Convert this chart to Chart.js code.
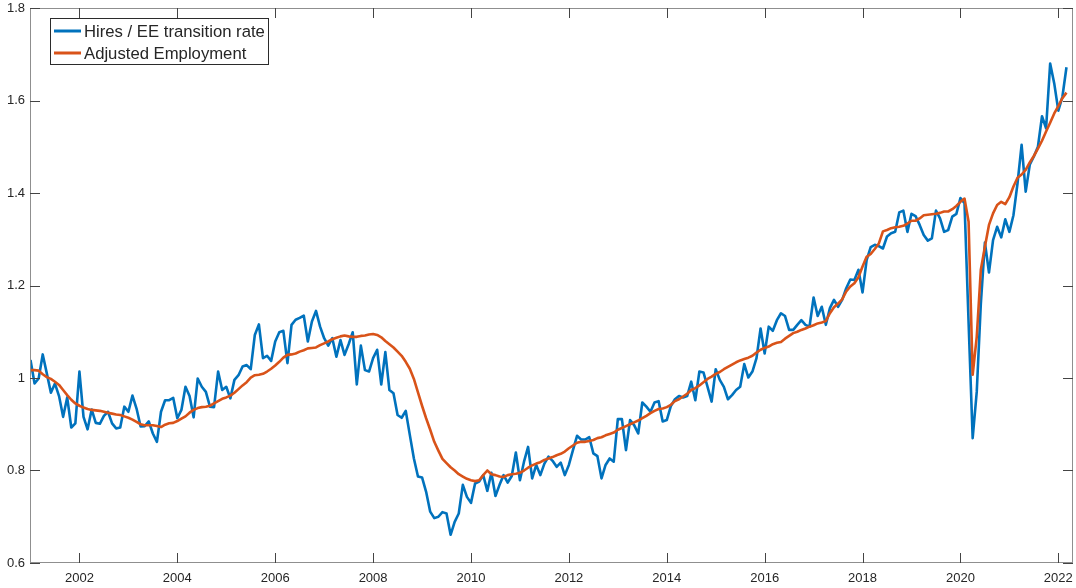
<!DOCTYPE html>
<html>
<head>
<meta charset="utf-8">
<script src="https://cdn.jsdelivr.net/npm/chart.js@4.4.1/dist/chart.umd.min.js"></script>
<style>
  html, body { margin: 0; padding: 0; background: #fff; }
  #wrap { width: 1076px; height: 588px; }
</style>
</head>
<body>
<div id="wrap"><canvas id="chart" width="1076" height="588"></canvas></div>
<script>
// monthly series, first value = Jan 2001
const startYear = 2001;
const tickYears = [2002, 2004, 2006, 2008, 2010, 2012, 2014, 2016, 2018, 2020, 2022];
const yTicks = [0.6, 0.8, 1.0, 1.2, 1.4, 1.6, 1.8];
const seriesNames = ['Hires / EE transition rate', 'Adjusted Employment'];

const hires = [
  1.039, 0.988, 0.999, 1.051, 1.010, 0.968, 0.988, 0.961, 0.916, 0.958, 0.893, 0.902, // 2001
  1.014, 0.916, 0.889, 0.932, 0.903, 0.901, 0.918, 0.927, 0.902, 0.891, 0.893, 0.938, // 2002
  0.927, 0.962, 0.934, 0.895, 0.896, 0.906, 0.880, 0.862, 0.927, 0.952, 0.952, 0.957, // 2003
  0.913, 0.931, 0.981, 0.961, 0.915, 0.999, 0.981, 0.970, 0.938, 0.937, 1.014, 0.974, // 2004
  0.981, 0.956, 0.996, 1.006, 1.025, 1.028, 1.019, 1.093, 1.116, 1.043, 1.048, 1.037, // 2005
  1.079, 1.099, 1.102, 1.032, 1.115, 1.126, 1.130, 1.135, 1.079, 1.122, 1.145, 1.111, // 2006
  1.086, 1.070, 1.086, 1.046, 1.082, 1.050, 1.073, 1.099, 0.986, 1.070, 1.017, 1.014, // 2007
  1.043, 1.061, 0.986, 1.056, 0.974, 0.967, 0.920, 0.914, 0.929, 0.877, 0.826, 0.787, // 2008
  0.785, 0.754, 0.711, 0.697, 0.700, 0.710, 0.707, 0.661, 0.689, 0.707, 0.769, 0.743, // 2009
  0.730, 0.772, 0.776, 0.790, 0.756, 0.795, 0.745, 0.769, 0.790, 0.774, 0.788, 0.839, // 2010
  0.779, 0.819, 0.851, 0.783, 0.812, 0.790, 0.815, 0.830, 0.821, 0.808, 0.817, 0.790, // 2011
  0.812, 0.844, 0.875, 0.867, 0.867, 0.872, 0.837, 0.831, 0.783, 0.812, 0.826, 0.819, // 2012
  0.911, 0.911, 0.844, 0.909, 0.898, 0.880, 0.947, 0.938, 0.927, 0.947, 0.950, 0.906, // 2013
  0.909, 0.939, 0.954, 0.961, 0.958, 0.961, 0.992, 0.952, 1.014, 1.012, 0.981, 0.949, // 2014
  1.019, 0.996, 0.981, 0.954, 0.963, 0.974, 0.981, 1.030, 1.001, 1.014, 1.043, 1.107, // 2015
  1.053, 1.111, 1.102, 1.125, 1.140, 1.134, 1.104, 1.104, 1.115, 1.125, 1.115, 1.111, // 2016
  1.174, 1.134, 1.154, 1.115, 1.151, 1.169, 1.154, 1.169, 1.194, 1.213, 1.212, 1.234, // 2017
  1.185, 1.255, 1.283, 1.288, 1.285, 1.280, 1.306, 1.313, 1.316, 1.358, 1.362, 1.316, // 2018
  1.355, 1.350, 1.331, 1.309, 1.297, 1.302, 1.362, 1.345, 1.316, 1.320, 1.349, 1.355, // 2019
  1.389, 1.378, 1.120, 0.870, 0.970, 1.160, 1.293, 1.228, 1.298, 1.327, 1.304, 1.343, // 2020
  1.316, 1.352, 1.421, 1.504, 1.403, 1.461, 1.479, 1.500, 1.566, 1.540, 1.680, 1.637, // 2021
  1.578, 1.608, 1.672                                                                  // 2022
];

const adjEmp = [
  1.017, 1.017, 1.016, 1.008, 1.002, 0.998, 0.992, 0.985, 0.974, 0.963, 0.953, 0.945, // 2001
  0.940, 0.936, 0.933, 0.931, 0.930, 0.929, 0.927, 0.925, 0.923, 0.921, 0.920, 0.917, // 2002
  0.914, 0.910, 0.905, 0.900, 0.898, 0.898, 0.898, 0.896, 0.894, 0.899, 0.902, 0.903, // 2003
  0.907, 0.912, 0.917, 0.925, 0.931, 0.935, 0.937, 0.938, 0.940, 0.945, 0.950, 0.955, // 2004
  0.958, 0.962, 0.968, 0.976, 0.984, 0.991, 1.001, 1.006, 1.007, 1.009, 1.014, 1.020, // 2005
  1.027, 1.035, 1.044, 1.050, 1.051, 1.053, 1.057, 1.060, 1.064, 1.065, 1.066, 1.071, // 2006
  1.075, 1.079, 1.084, 1.087, 1.090, 1.092, 1.090, 1.089, 1.089, 1.091, 1.092, 1.094, // 2007
  1.095, 1.093, 1.088, 1.080, 1.073, 1.066, 1.057, 1.048, 1.035, 1.020, 0.998, 0.969, // 2008
  0.940, 0.913, 0.888, 0.862, 0.843, 0.825, 0.816, 0.807, 0.800, 0.792, 0.787, 0.782, // 2009
  0.779, 0.777, 0.779, 0.790, 0.800, 0.792, 0.790, 0.787, 0.786, 0.790, 0.792, 0.793, // 2010
  0.795, 0.800, 0.806, 0.811, 0.815, 0.818, 0.823, 0.826, 0.829, 0.833, 0.836, 0.841, // 2011
  0.848, 0.854, 0.860, 0.862, 0.862, 0.864, 0.866, 0.870, 0.872, 0.876, 0.879, 0.882, // 2012
  0.888, 0.892, 0.896, 0.900, 0.904, 0.908, 0.913, 0.918, 0.924, 0.929, 0.933, 0.934, // 2013
  0.937, 0.942, 0.950, 0.954, 0.960, 0.966, 0.974, 0.978, 0.984, 0.991, 0.998, 1.003, // 2014
  1.009, 1.013, 1.019, 1.024, 1.029, 1.034, 1.038, 1.041, 1.044, 1.048, 1.055, 1.061, // 2015
  1.065, 1.068, 1.073, 1.076, 1.078, 1.085, 1.091, 1.097, 1.100, 1.104, 1.107, 1.111, // 2016
  1.114, 1.118, 1.120, 1.123, 1.140, 1.153, 1.161, 1.170, 1.187, 1.198, 1.205, 1.218, // 2017
  1.241, 1.262, 1.268, 1.279, 1.291, 1.317, 1.320, 1.324, 1.326, 1.327, 1.329, 1.334, // 2018
  1.340, 1.340, 1.345, 1.352, 1.353, 1.354, 1.355, 1.357, 1.360, 1.360, 1.365, 1.372, // 2019
  1.381, 1.388, 1.338, 1.007, 1.089, 1.234, 1.284, 1.331, 1.356, 1.374, 1.381, 1.376, // 2020
  1.391, 1.414, 1.433, 1.440, 1.450, 1.466, 1.480, 1.496, 1.513, 1.533, 1.552, 1.572, // 2021
  1.588, 1.605, 1.617                                                                  // 2022
];

const BLUE = '#0072BD';
const ORANGE = '#D95319';
const FONT = '"Liberation Sans", Arial, Helvetica, sans-serif';

const toPoints = arr => arr.map((v, i) => ({ x: startYear + i / 12, y: v }));

// matlab-ish box: spines on all sides + inward tick marks, and the legend box
const boxPlugin = {
  id: 'matlabBox',
  afterDraw(chart) {
    const { ctx, chartArea: a, scales } = chart;
    const xs = scales.x, ys = scales.y;
    const tl = 10;
    ctx.save();
    ctx.strokeStyle = '#8f8f8f';
    ctx.lineWidth = 1;
    ctx.strokeRect(a.left + 0.5, a.top + 0.5, a.right - a.left - 1, a.bottom - a.top - 1);

    ctx.strokeStyle = '#444';
    ctx.beginPath();
    tickYears.forEach(v => {
      const px = Math.round(xs.getPixelForValue(v)) + 0.5;
      ctx.moveTo(px, a.bottom); ctx.lineTo(px, a.bottom - tl);
      ctx.moveTo(px, a.top); ctx.lineTo(px, a.top + tl);
    });
    yTicks.forEach(v => {
      const py = Math.round(ys.getPixelForValue(v)) + 0.5;
      ctx.moveTo(a.left, py); ctx.lineTo(a.left + tl, py);
      ctx.moveTo(a.right, py); ctx.lineTo(a.right - tl, py);
    });
    ctx.stroke();

    // legend
    const lx = 50.5, ly = 18.5, lw = 218, lh = 46;
    ctx.fillStyle = '#fff';
    ctx.fillRect(lx, ly, lw, lh);
    ctx.strokeStyle = '#2b2b2b';
    ctx.strokeRect(lx, ly, lw, lh);
    const cols = [BLUE, ORANGE];
    ctx.font = '16.7px ' + FONT;
    ctx.textBaseline = 'middle';
    ctx.textAlign = 'left';
    seriesNames.forEach((name, i) => {
      const yy = 31 + i * 22;
      ctx.strokeStyle = cols[i];
      ctx.lineWidth = 3;
      ctx.beginPath();
      ctx.moveTo(54, yy); ctx.lineTo(81, yy);
      ctx.stroke();
      ctx.fillStyle = '#262626';
      ctx.fillText(name, 84, yy + 1);
    });
    ctx.restore();
  }
};

new Chart(document.getElementById('chart'), {
  type: 'line',
  data: {
    datasets: [
      {
        label: seriesNames[0],
        data: toPoints(hires),
        borderColor: BLUE,
        borderWidth: 2.6,
        pointRadius: 0,
        tension: 0,
        borderJoinStyle: 'round',
        fill: false,
        order: 2
      },
      {
        label: seriesNames[1],
        data: toPoints(adjEmp),
        borderColor: ORANGE,
        borderWidth: 2.6,
        pointRadius: 0,
        tension: 0,
        borderJoinStyle: 'round',
        fill: false,
        order: 1
      }
    ]
  },
  options: {
    responsive: false,
    animation: false,
    devicePixelRatio: 1,
    layout: { padding: { top: 8, right: 3, left: 0, bottom: 0 } },
    plugins: {
      legend: { display: false },
      tooltip: { enabled: false }
    },
    scales: {
      x: {
        type: 'linear',
        min: 2000.99,
        max: 2022.30,
        grid: { display: false, drawTicks: false, tickLength: 0 },
        border: { display: false },
        afterBuildTicks: s => { s.ticks = tickYears.map(v => ({ value: v })); },
        afterFit: s => { s.height = 25; s.paddingLeft = 0; s.paddingRight = 0; },
        ticks: {
          autoSkip: false,
          maxRotation: 0,
          padding: 8,
          color: '#262626',
          font: { family: FONT, size: 13 },
          callback: v => String(v)
        }
      },
      y: {
        min: 0.6,
        max: 1.8,
        grid: { display: false, drawTicks: false, tickLength: 0 },
        border: { display: false },
        afterBuildTicks: s => { s.ticks = yTicks.map(v => ({ value: v })); },
        afterFit: s => { s.width = 30; s.paddingTop = 0; s.paddingBottom = 0; },
        ticks: {
          padding: 5,
          color: '#262626',
          font: { family: FONT, size: 13 },
          callback: v => String(parseFloat(Number(v).toFixed(1)))
        }
      }
    }
  },
  plugins: [boxPlugin]
});
</script>
</body>
</html>
